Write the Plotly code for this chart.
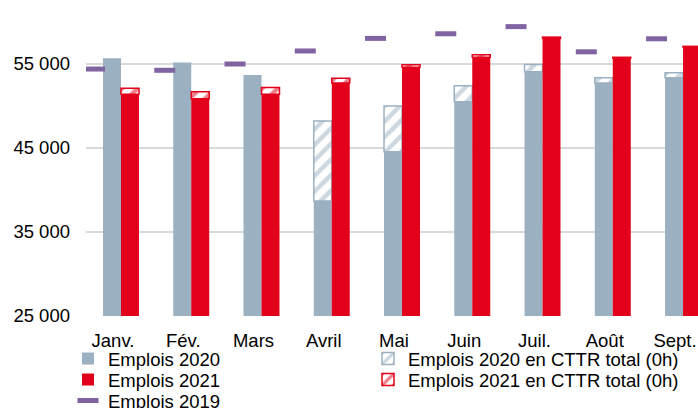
import plotly.graph_objects as go

months = ["Janv.", "Fév.", "Mars", "Avril", "Mai", "Juin", "Juil.", "Août", "Sept."]
emplois_2020_total = [55600, 55100, 53600, 48200, 50000, 52400, 54950, 53350, 53950]
emplois_2020_cttr = [0, 0, 0, 9500, 5450, 1900, 870, 600, 600]
emplois_2021_total = [52100, 51700, 52200, 53300, 54900, 56100, 58200, 55800, 57100]
emplois_2021_cttr = [700, 850, 800, 560, 300, 300, 150, 100, 100]
emplois_2019 = [54400, 54250, 55000, 56550, 58050, 58600, 59450, 56450, 58000]
y_ticks = [25000, 35000, 45000, 55000]

GRAY = "#9BB0C1"
RED = "#E2001A"
PURPLE = "#8064A2"
FONT = "Liberation Sans, Arial, sans-serif"
FS = 18.5

W, H = 698, 408

idx = list(range(len(months)))
solid_2020 = [t - c for t, c in zip(emplois_2020_total, emplois_2020_cttr)]
solid_2021 = [t - c for t, c in zip(emplois_2021_total, emplois_2021_cttr)]

BW = 0.256
OFF_G = -0.142
OFF_R = OFF_G + BW
DASH_SHIFT = -0.263

fig = go.Figure()
fig.add_trace(go.Bar(x=idx, y=solid_2020, base=0, width=BW, offset=OFF_G,
                     marker=dict(color=GRAY, line=dict(width=0)),
                     name="Emplois 2020", legend="legend"))
fig.add_trace(go.Bar(x=idx, y=emplois_2020_cttr, base=solid_2020, width=BW, offset=OFF_G,
                     marker=dict(color="white", line=dict(color=GRAY, width=1.5),
                                 pattern=dict(shape="/", fgcolor=GRAY, bgcolor="white",
                                              size=11, solidity=0.4)),
                     name="Emplois 2020 en CTTR total (0h)", legend="legend2"))
fig.add_trace(go.Bar(x=idx, y=solid_2021, base=0, width=BW, offset=OFF_R,
                     marker=dict(color=RED, line=dict(width=0)),
                     name="Emplois 2021", legend="legend3"))
fig.add_trace(go.Bar(x=idx, y=emplois_2021_cttr, base=solid_2021, width=BW, offset=OFF_R,
                     marker=dict(color="white", line=dict(color=RED, width=1.5),
                                 pattern=dict(shape="/", fgcolor=RED, bgcolor="white",
                                              size=11, solidity=0.4)),
                     name="Emplois 2021 en CTTR total (0h)", legend="legend4"))
fig.add_trace(go.Scatter(x=[i + DASH_SHIFT for i in idx], y=emplois_2019, mode="markers",
                         marker=dict(symbol="line-ew", size=15,
                                     line=dict(color=PURPLE, width=5)),
                         name="Emplois 2019", legend="legend5"))

leg_common = dict(orientation="h", xref="container", yref="container",
                  xanchor="left", yanchor="middle", bgcolor="rgba(0,0,0,0)",
                  font=dict(family=FONT, size=FS, color="#000"),
                  itemclick=False, itemdoubleclick=False)

X1 = 68 / W
X2 = 368 / W
fig.update_layout(
    width=W, height=H,
    margin=dict(l=86, r=0, t=0, b=H - 316, autoexpand=False),
    paper_bgcolor="white", plot_bgcolor="white",
    barmode="overlay",
    separators=", ",
    font=dict(family=FONT, size=FS, color="#000"),
    xaxis=dict(range=[-0.384, 8.327], tickvals=idx, ticktext=months,
               showgrid=False, zeroline=False, showline=False, ticks="",
               ticklabelstandoff=11, automargin=False,
               tickfont=dict(family=FONT, size=FS, color="#000")),
    yaxis=dict(range=[25000, 25000 + 316 / 0.0084], tickvals=y_ticks,
               tickformat=",d", automargin=False,
               showgrid=True, gridcolor="#D9D9D9", gridwidth=2,
               zeroline=False, showline=False, ticks="", ticklabelstandoff=15,
               tickfont=dict(family=FONT, size=FS, color="#000")),
    legend=dict(x=X1, y=1 - 359 / H, **leg_common),
    legend2=dict(x=X2, y=1 - 359 / H, **leg_common),
    legend3=dict(x=X1, y=1 - 380 / H, **leg_common),
    legend4=dict(x=X2, y=1 - 380 / H, **leg_common),
    legend5=dict(x=X1, y=1 - 401 / H, **leg_common),
    showlegend=True,
)

fig.write_html("out.html",
               config={"displayModeBar": False},
               post_script="document.body.style.margin='0';"
                           "document.body.style.overflow='hidden';")
